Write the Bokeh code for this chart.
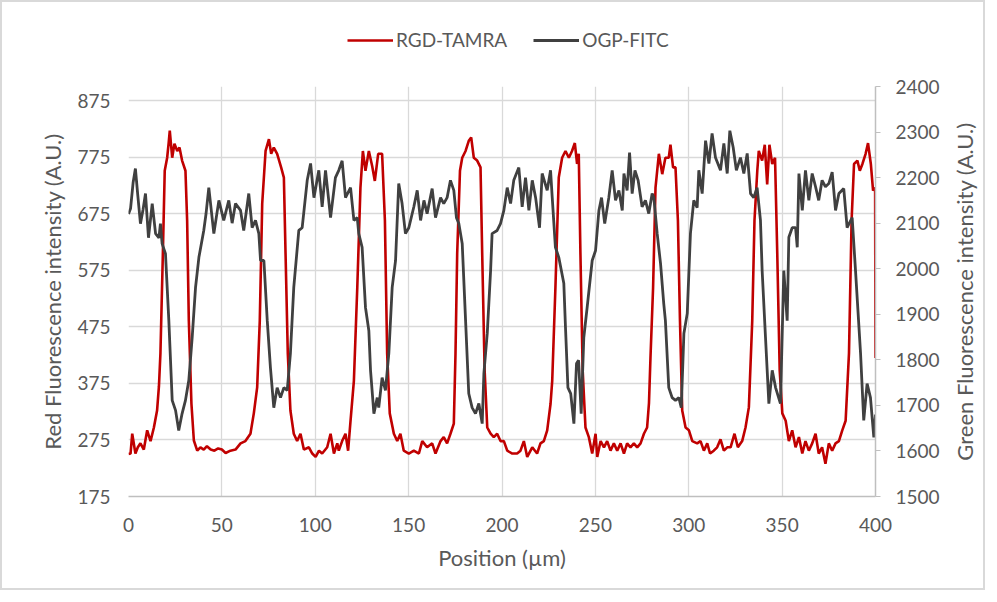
import math
from bokeh.plotting import figure
from bokeh.layouts import row, column
from bokeh.models import Range1d, LinearAxis, FixedTicker, Legend, LegendItem
from bokeh.embed import file_html
from bokeh.resources import INLINE

# ---- data ----
red_x = [0, 1.1, 2, 3.7, 5, 6.4, 8.2, 10, 11.8, 13.6, 15.3, 16.3, 17.1, 18.4, 19.4, 20.7, 21.5, 22.1, 23.4, 24.6,
         26.1, 27.3, 28.7, 30.5, 31.4, 32.3, 33.7, 35, 36.8, 38.5, 40.3, 42, 44, 46, 48, 50, 52, 54.6, 57.3, 60,
         62.6, 65.3, 67.1, 68.9, 70.3, 71.6, 73.4, 75.2, 76.4, 77.8, 79.6, 81.8, 83.2, 84.1, 85.3, 86.7, 88.5, 90.3,
         92.1, 93.9, 96.6, 98.4, 100.2, 102, 103.7, 106.4, 108.2, 110, 111.8, 112.6, 114.4, 116.2, 117.6, 118.9,
         120.7, 122.5, 124.2, 125.5, 126.9, 128.7, 130.5, 131.9, 133.7, 135.8, 137.3, 138.5, 139.9, 142.1, 143.9,
         145.6, 147.4, 150.1, 152.8, 155.5, 157.3, 159.9, 162.6, 164.4, 167.1, 168.8, 170.6, 172.4, 174.2, 175.1,
         176, 177.5, 178.7, 180.5, 182.2, 183.5, 184.9, 186.7, 188.5, 189.4, 190.7, 192.1, 193.9, 195.6, 197.4,
         199.2, 201, 202.8, 205.5, 208.1, 209.9, 211.7, 213.5, 216.2, 218.8, 220.6, 222.4, 224.2, 226, 226.9,
         228.6, 230.4, 232.2, 234, 235.8, 237.5, 239, 240.2, 241.1, 242, 243.2, 244.7, 246.5, 248.3, 250.1, 251,
         252.8, 254.6, 256.3, 258.1, 259.9, 261.7, 263.5, 265.3, 267, 268.8, 270.6, 272.4, 274.2, 276, 277.7,
         278.7, 279.5, 280.9, 282.2, 284, 285.8, 287.5, 289.3, 290.2, 291.6, 292.9, 294.2, 295.3, 296.5, 298.3,
         300.1, 301.9, 304.5, 306.3, 308.1, 309.9, 311.4, 313.4, 315.2, 317, 318.8, 320.6, 322.4, 324.5, 326.3,
         328.6, 330.4, 332.2, 334, 335.2, 336.7, 337.5, 339.3, 340.7, 342, 343.2, 344.7, 346.2, 347.4, 348.7,
         350.1, 351.9, 353.6, 355.4, 357.2, 359, 360.8, 362.5, 364.3, 366.1, 367.9, 369.6, 371.4, 373.2, 375,
         376.8, 378.6, 380.4, 382.2, 384, 385.8, 387.2, 388.5, 390.3, 391.6, 393, 394.7, 396, 397.5, 398.7, 399.8,
         400]
red_y = [250, 251, 286, 251, 262, 269, 258, 292, 273, 297, 327, 370, 428, 604, 751, 774, 800, 822, 774, 799,
         786, 792, 769, 751, 663, 486, 339, 274, 256, 262, 258, 264, 258, 256, 260, 258, 252, 256, 258, 269,
         273, 286, 322, 368, 486, 693, 786, 807, 781, 792, 781, 756, 739, 604, 428, 327, 286, 273,
         286, 258, 262, 251, 245, 256, 251, 262, 286, 251, 269, 256, 273, 286, 256, 309,
         380, 544, 721, 786, 751, 786, 759, 733, 781, 781, 663, 428, 322, 286, 273,
         286, 256, 251, 256, 251, 273, 262, 269, 251, 273, 280, 269, 286, 304, 428,
         604, 751, 774, 786, 804, 810, 774, 769, 757, 604, 398, 297, 286, 280, 286,
         273, 273, 256, 251, 251, 256, 273, 245, 262, 251, 269, 273, 292, 339, 380,
         544, 739, 774, 786, 774, 786, 800, 763, 781, 604, 398, 297, 280, 251, 286, 245,
         273, 262, 273, 256, 269, 256, 269, 251, 269, 262, 269, 262, 269, 286, 297,
         340, 420, 544, 721, 781, 745, 774, 774, 797, 757, 757, 663, 486, 327, 297,
         292, 273, 269, 273, 256, 269, 251, 256, 262, 276, 256, 262, 262, 286, 262,
         273, 297, 333, 486, 663, 751, 786, 769, 797, 727, 797, 763, 774, 604, 398,
         322, 309, 273, 292, 262, 280, 251, 273, 256, 269, 286, 251, 262, 233, 269,
         256, 269, 273, 292, 309, 428, 663, 763, 769, 751, 763, 781, 800, 763, 716, 721,
         420]

green_x = [0, 1.1, 2.5, 3.7, 5, 6.4, 7.8, 9.1, 10.7, 12.7, 14.5, 16.3, 17.1, 18, 19.8, 21.6, 23.4, 25.2, 26.9,
           28.7, 30.5, 32.3, 34.1, 35.9, 37.7, 40.3, 41.5, 43, 45.7, 48.4, 51, 53.7, 55.5, 57.3, 60, 61.7, 64.4,
           66.2, 68, 69.8, 70.7, 72.5, 74.3, 76, 77.8, 79.6, 81.4, 83.2, 85, 86.7, 88.5, 91.2, 93, 95.7, 97.5,
           99.3, 101.9, 103.7, 105.5, 108.2, 110.8, 112.6, 114.4, 116.2, 118.9, 120.7, 122.5, 123.3, 125.1, 126.9,
           128.7, 129.6, 131.4, 133.2, 134, 135.8, 137.6, 139.4, 141.2, 143, 144.7, 146.5, 148.3, 150.1, 152.8,
           154.6, 156.4, 158.2, 159.9, 162.6, 164.4, 167.1, 168.8, 170.6, 172.4, 174.2, 175.6, 176.9, 178.7, 180.5,
           182.2, 184, 185.8, 187.6, 189.4, 190.3, 192.1, 193.9, 194.7, 197.4, 199.2, 201, 202.8, 204.6, 206.3,
           209, 210.8, 212.6, 214.4, 216.2, 218, 220.1, 221.5, 224.2, 226, 226.9, 228.6, 230.4, 233.1, 234,
           235.3, 236.8, 238.5, 239.9, 241, 242.4, 243.8, 245.6, 248.3, 250.1, 251.9, 253.3, 255, 257.2, 259,
           260.8, 262.6, 264.4, 265.3, 267, 268.3, 269.7, 271.2, 272.9, 275, 276.8, 278.6, 280.4, 281.3, 283.1,
           284.9, 286.6, 287.5, 289.3, 291.1, 292.9, 294.7, 296, 297.4, 299.2, 300.9, 302.7, 304.5, 305.4, 307.2,
           309, 310.8, 312.5, 314.3, 317, 318.8, 320.6, 322, 323.8, 325.5, 327.7, 329.5, 331.3, 333.1, 334.8,
           336.6, 338.4, 339.3, 341.1, 342.9, 344.7, 346.5, 349.1, 350.9, 352.7, 353.6, 355.4, 357.2, 358.1, 359,
           360.8, 362.5, 364.3, 366.1, 367.9, 369.6, 371.4, 373.2, 375, 376.8, 378.6, 380.4, 383, 384.8, 387.5,
           389.3, 392, 393.7, 395.5, 397.3, 399.1, 400]
green_y = [2120, 2132, 2190, 2220, 2160, 2099, 2130, 2165, 2068, 2143, 2077, 2068, 2099, 2055, 2033, 1886, 1711,
           1689, 1645, 1682, 1711, 1755, 1849, 1959, 2025, 2084, 2120, 2178, 2077, 2150, 2106, 2150, 2100, 2143,
           2128, 2084, 2165, 2090, 2106, 2077, 2018, 2018, 1886, 1783, 1695, 1739, 1717, 1739, 1733, 1814, 1959,
           2084, 2090, 2194, 2231, 2156, 2216, 2136, 2216, 2112, 2200, 2216, 2237, 2156, 2178, 2106, 2112, 2077,
           2047, 1915, 1864, 1777, 1682, 1717, 1695, 1761, 1733, 1814, 1959, 2018, 2187, 2143, 2077, 2090, 2136,
           2172, 2106, 2150, 2121, 2176, 2112, 2156, 2143, 2156, 2194, 2172, 2112, 2099, 2055, 1886, 1726, 1695,
           1682, 1704, 1660, 1770, 1858, 1996, 2077, 2084, 2099, 2128, 2178, 2143, 2194, 2222, 2136, 2200, 2128,
           2194, 2156, 2090, 2209, 2172, 2216, 2156, 2047, 2025, 1968, 1871, 1739, 1726, 1660, 1792, 1799, 1682,
           1849, 1915, 2018, 2040, 2128, 2156, 2099, 2156, 2216, 2150, 2172, 2128, 2209, 2172, 2255, 2165, 2216,
           2194, 2136, 2150, 2121, 2165, 2156, 2077, 2011, 1924, 1886, 1739, 1717, 1711, 1717, 1695, 1858, 1902,
           2077, 2150, 2134, 2216, 2165, 2281, 2231, 2297, 2244, 2216, 2275, 2209, 2303, 2266, 2216, 2244, 2209,
           2253, 2165, 2156, 2178, 2106, 1996, 1849, 1704, 1777, 1739, 1704, 1996, 1886, 2069, 2090, 2090, 2047,
           2209, 2128, 2216, 2150, 2209, 2180, 2150, 2194, 2180, 2187, 2212, 2128, 2165, 2176, 2090, 2112, 1996,
           1814, 1667, 1748, 1717, 1630, 1680]

x_ticks = [0, 50, 100, 150, 200, 250, 300, 350, 400]
left_ticks = [175, 275, 375, 475, 575, 675, 775, 875]
right_ticks = [1500, 1600, 1700, 1800, 1900, 2000, 2100, 2200, 2300, 2400]

FONT = "Lato"
TXT = "#595959"
RED = "#C00000"
GRAY = "#404040"
TICK_SIZE = "19px"
LABEL_SIZE = "22px"
RED_W = 2.6
GRAY_W = 2.8

# ---------------- main chart ----------------
p = figure(width=941, height=526, output_backend="svg", toolbar_location=None,
           x_range=Range1d(0, 400), y_range=Range1d(175, 900),
           min_border_left=126, min_border_right=68, min_border_top=24, min_border_bottom=92)
p.outline_line_color = None
p.extra_y_ranges = {"green": Range1d(1500, 2400)}

p.line(red_x, red_y, line_color=RED, line_width=RED_W)
p.line(green_x, green_y, line_color=GRAY, line_width=GRAY_W, y_range_name="green")

xa = p.xaxis[0]
xa.ticker = FixedTicker(ticks=x_ticks)
xa.axis_label = "Position (µm)"
xa.major_tick_line_color = None
xa.minor_tick_line_color = None
xa.axis_line_color = "#bfbfbf"
xa.axis_line_width = 1.5

ya = p.yaxis[0]
ya.ticker = FixedTicker(ticks=left_ticks)
ya.axis_label = "Red Fluorescence intensity (A.U.)"
ya.major_tick_line_color = None
ya.minor_tick_line_color = None
ya.axis_line_color = None

ra = LinearAxis(y_range_name="green", ticker=FixedTicker(ticks=right_ticks))
ra.major_tick_out = 5
ra.major_tick_in = 0
ra.minor_tick_line_color = None
ra.major_tick_line_color = "#bfbfbf"
ra.axis_line_color = "#bfbfbf"
ra.axis_line_width = 1.5
p.add_layout(ra, "right")

for ax in (xa, ya, ra):
    ax.major_label_text_font = FONT
    ax.major_label_text_font_size = TICK_SIZE
    ax.major_label_text_color = TXT
    ax.axis_label_text_font = FONT
    ax.axis_label_text_font_size = LABEL_SIZE
    ax.axis_label_text_font_style = "normal"
    ax.axis_label_text_color = TXT
xa.major_label_standoff = 15
xa.axis_label_standoff = 9
ya.major_label_standoff = 12
ya.axis_label_standoff = 8
ra.major_label_standoff = 15

p.xgrid.ticker = FixedTicker(ticks=x_ticks)
p.ygrid.ticker = FixedTicker(ticks=left_ticks)
p.grid.grid_line_color = "#d9d9d9"
p.grid.grid_line_width = 1.3

# ---------------- legend strip on top ----------------
# the same series are drawn here outside the visible range, only to feed the legend
pl = figure(width=981, height=60, output_backend="svg", toolbar_location=None,
            x_range=Range1d(0, 1), y_range=Range1d(0, 1), min_border=0)
pl.outline_line_color = None
pl.axis.visible = False
pl.grid.visible = False
k_red = pl.line(red_x, red_y, line_color=RED, line_width=RED_W)
k_gray = pl.line(green_x, green_y, line_color=GRAY, line_width=GRAY_W)
legend = Legend(items=[LegendItem(label="RGD-TAMRA", renderers=[k_red]),
                       LegendItem(label="OGP-FITC", renderers=[k_gray])],
                orientation="horizontal", location=(345, 11),
                label_text_font=FONT, label_text_font_size="19px", label_text_color=TXT,
                glyph_width=46, glyph_height=20, label_standoff=3, spacing=26,
                padding=0, margin=0, border_line_color=None, background_fill_alpha=0)
pl.add_layout(legend, "center")

# ---------------- right-hand axis title (reads bottom-to-top) ----------------
p2 = figure(width=40, height=526, output_backend="svg", toolbar_location=None,
            x_range=Range1d(0, 1), y_range=Range1d(1500, 2400),
            min_border_left=34, min_border_right=0, min_border_top=24, min_border_bottom=92)
p2.outline_line_color = None
p2.xaxis.visible = False
p2.grid.visible = False
a2 = p2.yaxis[0]
a2.axis_label = "Green Fluorescence intensity (A.U.)"
a2.axis_label_text_font = FONT
a2.axis_label_text_font_size = LABEL_SIZE
a2.axis_label_text_font_style = "normal"
a2.axis_label_text_color = TXT
a2.axis_label_standoff = 0
a2.major_label_text_font_size = "0px"
a2.major_label_standoff = 0
a2.major_tick_line_color = None
a2.minor_tick_line_color = None
a2.axis_line_color = None
a2.ticker = FixedTicker(ticks=[])

layout = column(pl, row(p, p2))
layout.styles = {"border": "2px solid #d9d9d9"}

open("out.html", "w").write(file_html(layout, INLINE))
